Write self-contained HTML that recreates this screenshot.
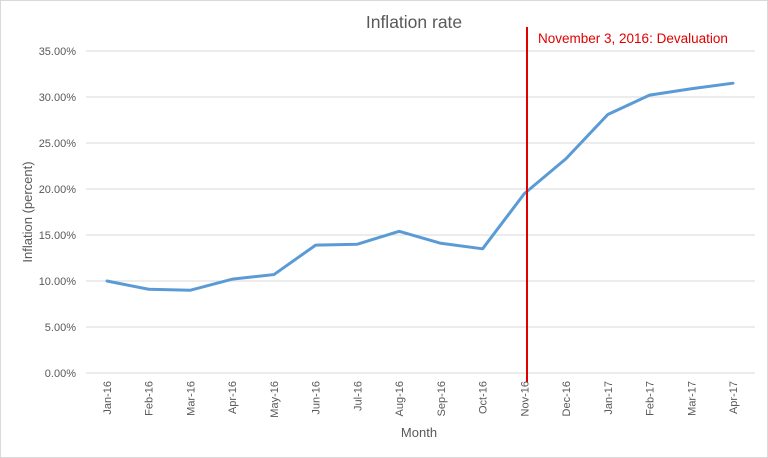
<!DOCTYPE html>
<html><head><meta charset="utf-8"><style>
body{margin:0;background:#fff;}
svg{display:block;font-family:"Liberation Sans",sans-serif;}
</style></head><body>
<svg id="chart" width="768" height="458">
<rect x="0.5" y="0.5" width="767" height="457" fill="#fff" stroke="#d9d9d9"/>
<text x="414" y="28" text-anchor="middle" font-size="17.5" fill="#595959">Inflation rate</text>
<g id="grid"></g><g id="yt"></g><g id="xt"></g>
<text transform="translate(32,212) rotate(-90)" text-anchor="middle" font-size="13" fill="#595959">Inflation (percent)</text>
<text x="419" y="437" text-anchor="middle" font-size="13" fill="#595959">Month</text>
<g id="series"></g>
<line x1="527" y1="27" x2="527" y2="382" stroke="#e00000" stroke-width="2"/>
<text x="538" y="43" font-size="13.5" fill="#e00000">November 3, 2016: Devaluation</text>
</svg>
<script>
const categories=["Jan-16","Feb-16","Mar-16","Apr-16","May-16","Jun-16","Jul-16","Aug-16","Sep-16","Oct-16","Nov-16","Dec-16","Jan-17","Feb-17","Mar-17","Apr-17"];
const inflation=[10.0,9.1,9.0,10.2,10.7,13.9,14.0,15.4,14.1,13.5,19.5,23.3,28.1,30.2,30.9,31.5];
const yTicks=[0,5,10,15,20,25,30,35];
const NS="http://www.w3.org/2000/svg";
const y=v=>373-v*(322/35);
const x=i=>107+i*(626/15);
function mk(t,a,p){const e=document.createElementNS(NS,t);for(const k in a)e.setAttribute(k,a[k]);p.appendChild(e);return e;}
const grid=document.getElementById('grid'),yt=document.getElementById('yt'),xt=document.getElementById('xt'),ser=document.getElementById('series');
yTicks.forEach(v=>{
 const l=mk('line',{x1:86,x2:755,y1:y(v),y2:y(v),stroke:'#d9d9d9','stroke-width':1},grid);
 
 
 const t=mk('text',{x:76,y:y(v)+4,'text-anchor':'end','font-size':11,fill:'#595959'},yt);
 t.textContent=v.toFixed(2)+'%';
 
 
});
categories.forEach((c,i)=>{
 const t=mk('text',{transform:`translate(${x(i)+4},381) rotate(-90)`,'text-anchor':'end','font-size':11,fill:'#595959'},xt);
 t.textContent=c;
 
 
});
const p=mk('polyline',{points:inflation.map((v,i)=>x(i)+','+y(v)).join(' '),fill:'none',stroke:'#5b9bd5','stroke-width':3,'stroke-linejoin':'round','stroke-linecap':'round'},ser);


</script>
</body></html>
